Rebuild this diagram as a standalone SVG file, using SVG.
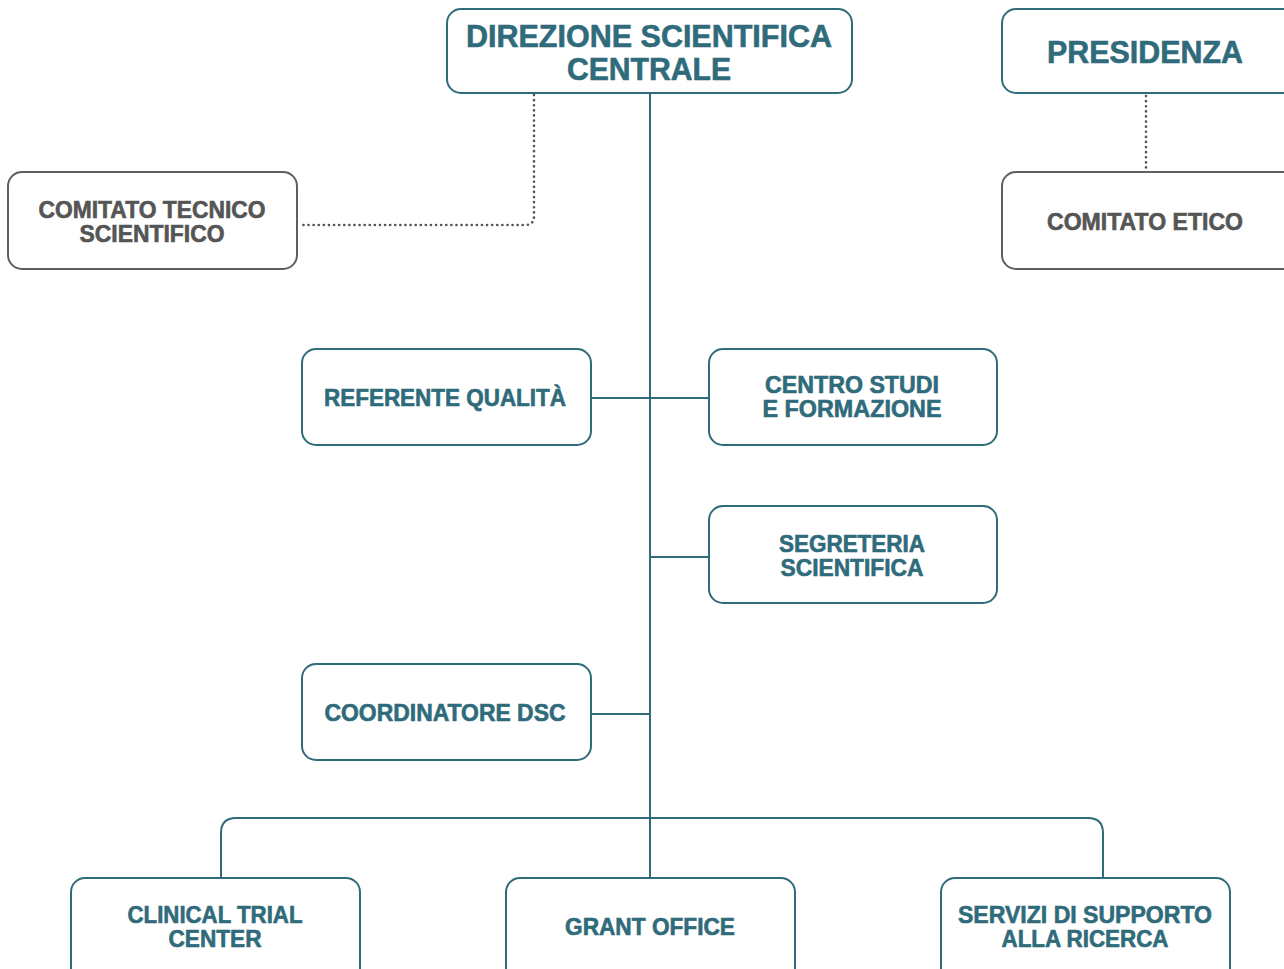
<svg xmlns="http://www.w3.org/2000/svg" width="1284" height="969" viewBox="0 0 1284 969">
<style>
.t{fill:#fff;stroke:#2f6b7b;stroke-width:2}
.g{fill:#fff;stroke:#5f5f5f;stroke-width:2}
text{font-family:"Liberation Sans",Arial,sans-serif;font-weight:bold;text-anchor:middle;stroke-width:0.6}
.tt{fill:#2f6b7b;stroke:#2f6b7b;font-size:23px}
.gt{fill:#555;stroke:#555;font-size:23px}
.big{fill:#2f6b7b;stroke:#2f6b7b;font-size:31px}
.ln{fill:none;stroke:#2f6b7b;stroke-width:2}
.dt{fill:none;stroke:#555;stroke-width:2.6;stroke-dasharray:0.1 5;stroke-linecap:round}
</style>
<rect width="1284" height="969" fill="#fff"/>
<g id="connectors">
<path class="ln" d="M650 93V878"/>
<path class="ln" d="M591 398H709"/>
<path class="ln" d="M650 557H709"/>
<path class="ln" d="M591 714H650"/>
<path class="ln" d="M221 878V833Q221 818 236 818H1088Q1103 818 1103 833V878"/>
<path class="dt" d="M534 95V216Q534 225 525 225H300"/>
<path class="dt" d="M1146 96V170"/>
</g>
<g id="direzione">
<rect class="t" x="447" y="9" width="405" height="84" rx="14"/>
<text class="big" x="649" y="47" textLength="366" lengthAdjust="spacingAndGlyphs">DIREZIONE SCIENTIFICA</text>
<text class="big" x="649" y="80" textLength="164" lengthAdjust="spacingAndGlyphs">CENTRALE</text>
</g>
<g id="presidenza">
<rect class="t" x="1002" y="9" width="300" height="84" rx="14"/>
<text class="big" x="1145" y="63" textLength="196" lengthAdjust="spacingAndGlyphs">PRESIDENZA</text>
</g>
<g id="comitato-tecnico">
<rect class="g" x="8" y="172" width="289" height="97" rx="14"/>
<text class="gt" x="152" y="218" textLength="227" lengthAdjust="spacingAndGlyphs">COMITATO TECNICO</text>
<text class="gt" x="152" y="242" textLength="145" lengthAdjust="spacingAndGlyphs">SCIENTIFICO</text>
</g>
<g id="comitato-etico">
<rect class="g" x="1002" y="172" width="300" height="97" rx="14"/>
<text class="gt" x="1145" y="230" textLength="196" lengthAdjust="spacingAndGlyphs">COMITATO ETICO</text>
</g>
<g id="referente">
<rect class="t" x="302" y="349" width="289" height="96" rx="14"/>
<text class="tt" x="445" y="406" textLength="242" lengthAdjust="spacingAndGlyphs">REFERENTE QUALITÀ</text>
</g>
<g id="centro-studi">
<rect class="t" x="709" y="349" width="288" height="96" rx="14"/>
<text class="tt" x="852" y="393" textLength="174" lengthAdjust="spacingAndGlyphs">CENTRO STUDI</text>
<text class="tt" x="852" y="417" textLength="179" lengthAdjust="spacingAndGlyphs">E FORMAZIONE</text>
</g>
<g id="segreteria">
<rect class="t" x="709" y="506" width="288" height="97" rx="14"/>
<text class="tt" x="852" y="552" textLength="146" lengthAdjust="spacingAndGlyphs">SEGRETERIA</text>
<text class="tt" x="852" y="576" textLength="143" lengthAdjust="spacingAndGlyphs">SCIENTIFICA</text>
</g>
<g id="coordinatore">
<rect class="t" x="302" y="664" width="289" height="96" rx="14"/>
<text class="tt" x="445" y="721" textLength="241" lengthAdjust="spacingAndGlyphs">COORDINATORE DSC</text>
</g>
<g id="clinical">
<rect class="t" x="71" y="878" width="289" height="110" rx="14"/>
<text class="tt" x="215" y="923" textLength="175" lengthAdjust="spacingAndGlyphs">CLINICAL TRIAL</text>
<text class="tt" x="215" y="947" textLength="93" lengthAdjust="spacingAndGlyphs">CENTER</text>
</g>
<g id="grant">
<rect class="t" x="506" y="878" width="289" height="110" rx="14"/>
<text class="tt" x="650" y="935" textLength="170" lengthAdjust="spacingAndGlyphs">GRANT OFFICE</text>
</g>
<g id="servizi">
<rect class="t" x="941" y="878" width="289" height="110" rx="14"/>
<text class="tt" x="1085" y="923" textLength="254" lengthAdjust="spacingAndGlyphs">SERVIZI DI SUPPORTO</text>
<text class="tt" x="1085" y="947" textLength="167" lengthAdjust="spacingAndGlyphs">ALLA RICERCA</text>
</g>
</svg>
